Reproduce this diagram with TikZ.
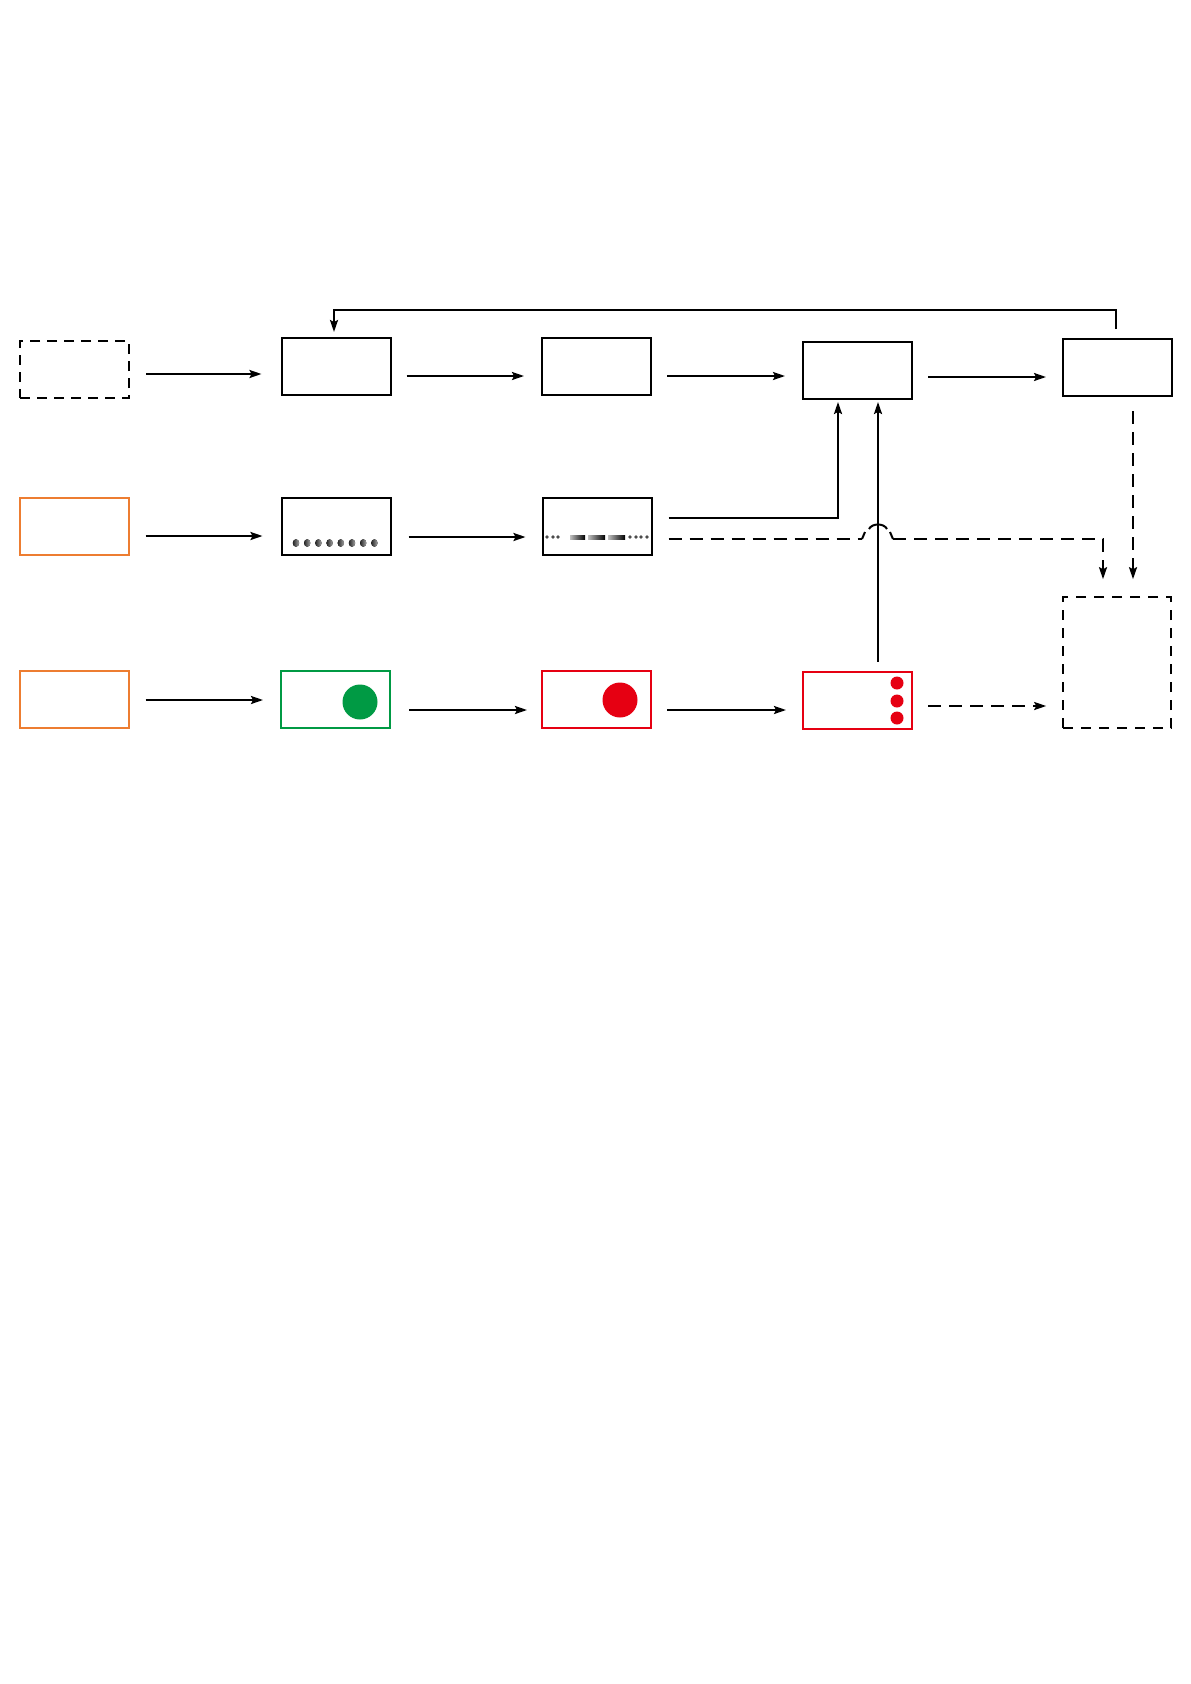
\documentclass[tikz,border=0pt]{standalone}
\usetikzlibrary{arrows.meta,calc,shapes.geometric}
\definecolor{myorange}{HTML}{ED7D31}
\definecolor{mygreen}{HTML}{009A44}
\definecolor{myred}{HTML}{E60012}
\tikzset{
  box/.style={draw, line width=2pt, minimum width=109pt, minimum height=57pt, inner sep=0pt},
  dbox/.style={box, dash pattern=on 10pt off 7pt},
  obox/.style={box, draw=myorange},
  gbox/.style={box, draw=mygreen},
  rbox/.style={box, draw=myred},
  arr/.style={line width=2pt, -{Stealth[length=12pt,width=8pt,inset=2pt]}},
  darr/.style={arr, dash pattern=on 13pt off 8pt},
  dline/.style={line width=2pt, dash pattern=on 13pt off 8pt},
  jump/.style={line width=2pt},
  ball/.style={left color=black!85, right color=black!35, draw=none},
  bar/.style={left color=black!25, right color=black, draw=none},
}
\begin{document}
\begin{tikzpicture}[x=1pt,y=-1pt]
\useasboundingbox[fill=white] (0,0) rectangle (1191,1684);
% row 1
\node[dbox] (b11) at (74.5,369.5) {};
\node[box] (b12) at (336,366.5) {};
\node[box] (b13) at (596.5,366.5) {};
\node[box] (b14) at (857.5,370.5) {};
\node[box] (b15) at (1117.5,367.5) {};
% row 2
\node[obox] (b21) at (74,526.5) {};
\node[box] (b22) at (336,526.5) {};
\node[box] (b23) at (597,526.5) {};
% row 3
\node[obox] (b31) at (74,699.5) {};
\node[gbox] (b32) at (335.5,699.5) {};
\node[rbox] (b33) at (596.5,699.5) {};
\node[rbox] (b34) at (857.5,700) {};
\node[box, line width=1.6pt, dash pattern=on 10pt off 8pt, minimum width=108pt, minimum height=131pt] (b35) at (1117,662.5) {};
% contents
\foreach \i in {0,...,7} {
  \fill[ball] (296+11.2*\i,543) ellipse (3.2 and 3.8);
}
\foreach \x in {547,553,558,630,636,641,647} {
  \fill[black!70] (\x,537) circle (1.8);
}
\fill[bar] (570,535) rectangle (585,539);
\fill[bar] (588,535) rectangle (605,539);
\fill[bar] (608,535) rectangle (625,539);
\fill[mygreen] (360,702) circle (17.5);
\fill[myred] (620,700) circle (17.5);
\foreach \y in {683,701,718} {
  \fill[myred] (897,\y) circle (6.5);
}
% row 1 arrows
\draw[arr] ($(b11.east)+(16,4.5)$) -- ($(b12.west)+(-19,7.5)$);
\draw[arr] ($(b12.east)+(15,9.5)$) -- ($(b13.west)+(-17,9.5)$);
\draw[arr] ($(b13.east)+(15,9.5)$) -- ($(b14.west)+(-17,5.5)$);
\draw[arr] ($(b14.east)+(15,6.5)$) -- ($(b15.west)+(-16,9.5)$);
% feedback
\draw[arr] ($(b15.north)+(-1.5,-9)$) -- ++(0,-19) -| ($(b12.north)+(-2,-5)$);
% row 2 arrows
\draw[arr] ($(b21.east)+(16,9.5)$) -- ($(b22.west)+(-18,9.5)$);
\draw[arr] ($(b22.east)+(17,10.5)$) -- ($(b23.west)+(-16,10.5)$);
% row 3 arrows
\draw[arr] ($(b31.east)+(16,0.5)$) -- ($(b32.west)+(-17,0.5)$);
\draw[arr] ($(b32.east)+(18,10.5)$) -- ($(b33.west)+(-14,10.5)$);
\draw[arr] ($(b33.east)+(15,10.5)$) -- ($(b34.west)+(-16,10)$);
\draw[darr] ($(b34.east)+(15,6)$) -- ($(b35.west)+(-16,43.5)$);
% up into b14
\draw[arr] ($(b23.east)+(16,-8.5)$) -| ($(b14.south)+(-19.5,2)$);
\draw[arr] ($(b34.north)+(20.5,-9)$) -- ($(b14.south)+(20.5,2)$);
% dashed to b35
\coordinate (j1) at (862,539);
\coordinate (j2) at (893,539);
\draw[dline] ($(b23.east)+(16,12.5)$) -- (j1);
\draw[jump] (j1) -- ++(3,-7);
\draw[jump] (869,529) .. controls (872,523) and (884,523) .. (887,529);
\draw[jump] (j2) -- ++(-3,-7);
\draw[darr] (j2) -| ($(b35.north)+(-14,-17)$);
\draw[darr] ($(b15.south)+(15.5,14)$) -- ($(b35.north)+(16,-17)$);
\end{tikzpicture}
\end{document}
